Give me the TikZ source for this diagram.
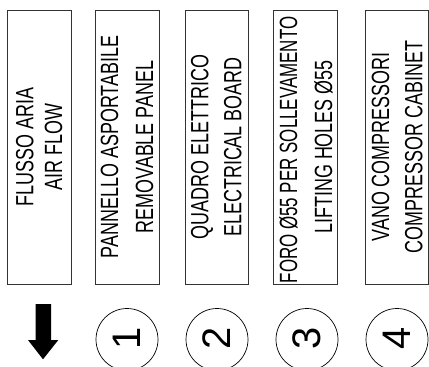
\documentclass[tikz,border=0pt]{standalone}
\usepackage{fontspec}
\newfontfamily\condfont[FakeStretch=0.72]{Liberation Sans}
\newfontfamily\condfontb[FakeStretch=0.68]{Liberation Sans}
\newfontfamily\digitfont{Liberation Sans}
\begin{document}
\begin{tikzpicture}[x=1bp,y=-1bp,
  legbox/.style={draw=black!80,line width=0.8bp},
  legtext/.style={rotate=90,anchor=base,inner sep=0pt,font=\condfont\fontsize{25}{25}\selectfont},
  numcirc/.style={circle,draw=black,line width=0.7bp,minimum size=62bp,inner sep=0pt},
  numtext/.style={rotate=90,inner sep=0pt,font=\digitfont\fontsize{40}{40}\selectfont}]
\useasboundingbox (0,0) rectangle (429,367);
% boxes
\draw[legbox] (7.5,10.5) rectangle (71.5,284.3);
\draw[legbox] (95,10.5) rectangle (159,284.3);
\draw[legbox] (185,10.5) rectangle (248.5,284.3);
\draw[legbox] (273.5,10.5) rectangle (337.5,284.3);
\draw[legbox] (365,10.5) rectangle (428,284.3);
% texts
\node[legtext] (t1a) at (33.3,147) {FLUSSO ARIA};
\node[legtext] (t1b) at (62,147) {AIR FLOW};
\node[legtext] (t2a) at (118,147) {PANNELLO ASPORTABILE};
\node[legtext] (t2b) at (153,147) {REMOVABLE PANEL};
\node[legtext] (t3a) at (208.3,147) {QUADRO ELETTRICO};
\node[legtext] (t3b) at (241.3,147) {ELECTRICAL BOARD};
\node[legtext,font=\condfontb\fontsize{25}{25}\selectfont] (t4a) at (297,150) {FORO Ø55 PER SOLLEVAMENTO};
\node[legtext] (t4b) at (332,147) {LIFTING HOLES Ø55};
\node[legtext] (t5a) at (389,147) {VANO COMPRESSORI};
\node[legtext] (t5b) at (422.3,147) {COMPRESSOR CABINET};
% arrow
\fill[black] (35.7,304) -- (51,304) -- (51,340) -- (58.3,340) -- (43,359.3) -- (28,340) -- (35.7,340) -- cycle;
% circles
\node[numcirc] (c1) at (127,339.5) {};
\node[numcirc] (c2) at (217,339.5) {};
\node[numcirc] (c3) at (307,339.5) {};
\node[numcirc] (c4) at (397,339.5) {};
\node[numtext] (n1) at (127,338) {1};
\node[numtext] (n2) at (217,338) {2};
\node[numtext] (n3) at (307,338) {3};
\node[numtext] (n4) at (397,338) {4};
\end{tikzpicture}
\end{document}
